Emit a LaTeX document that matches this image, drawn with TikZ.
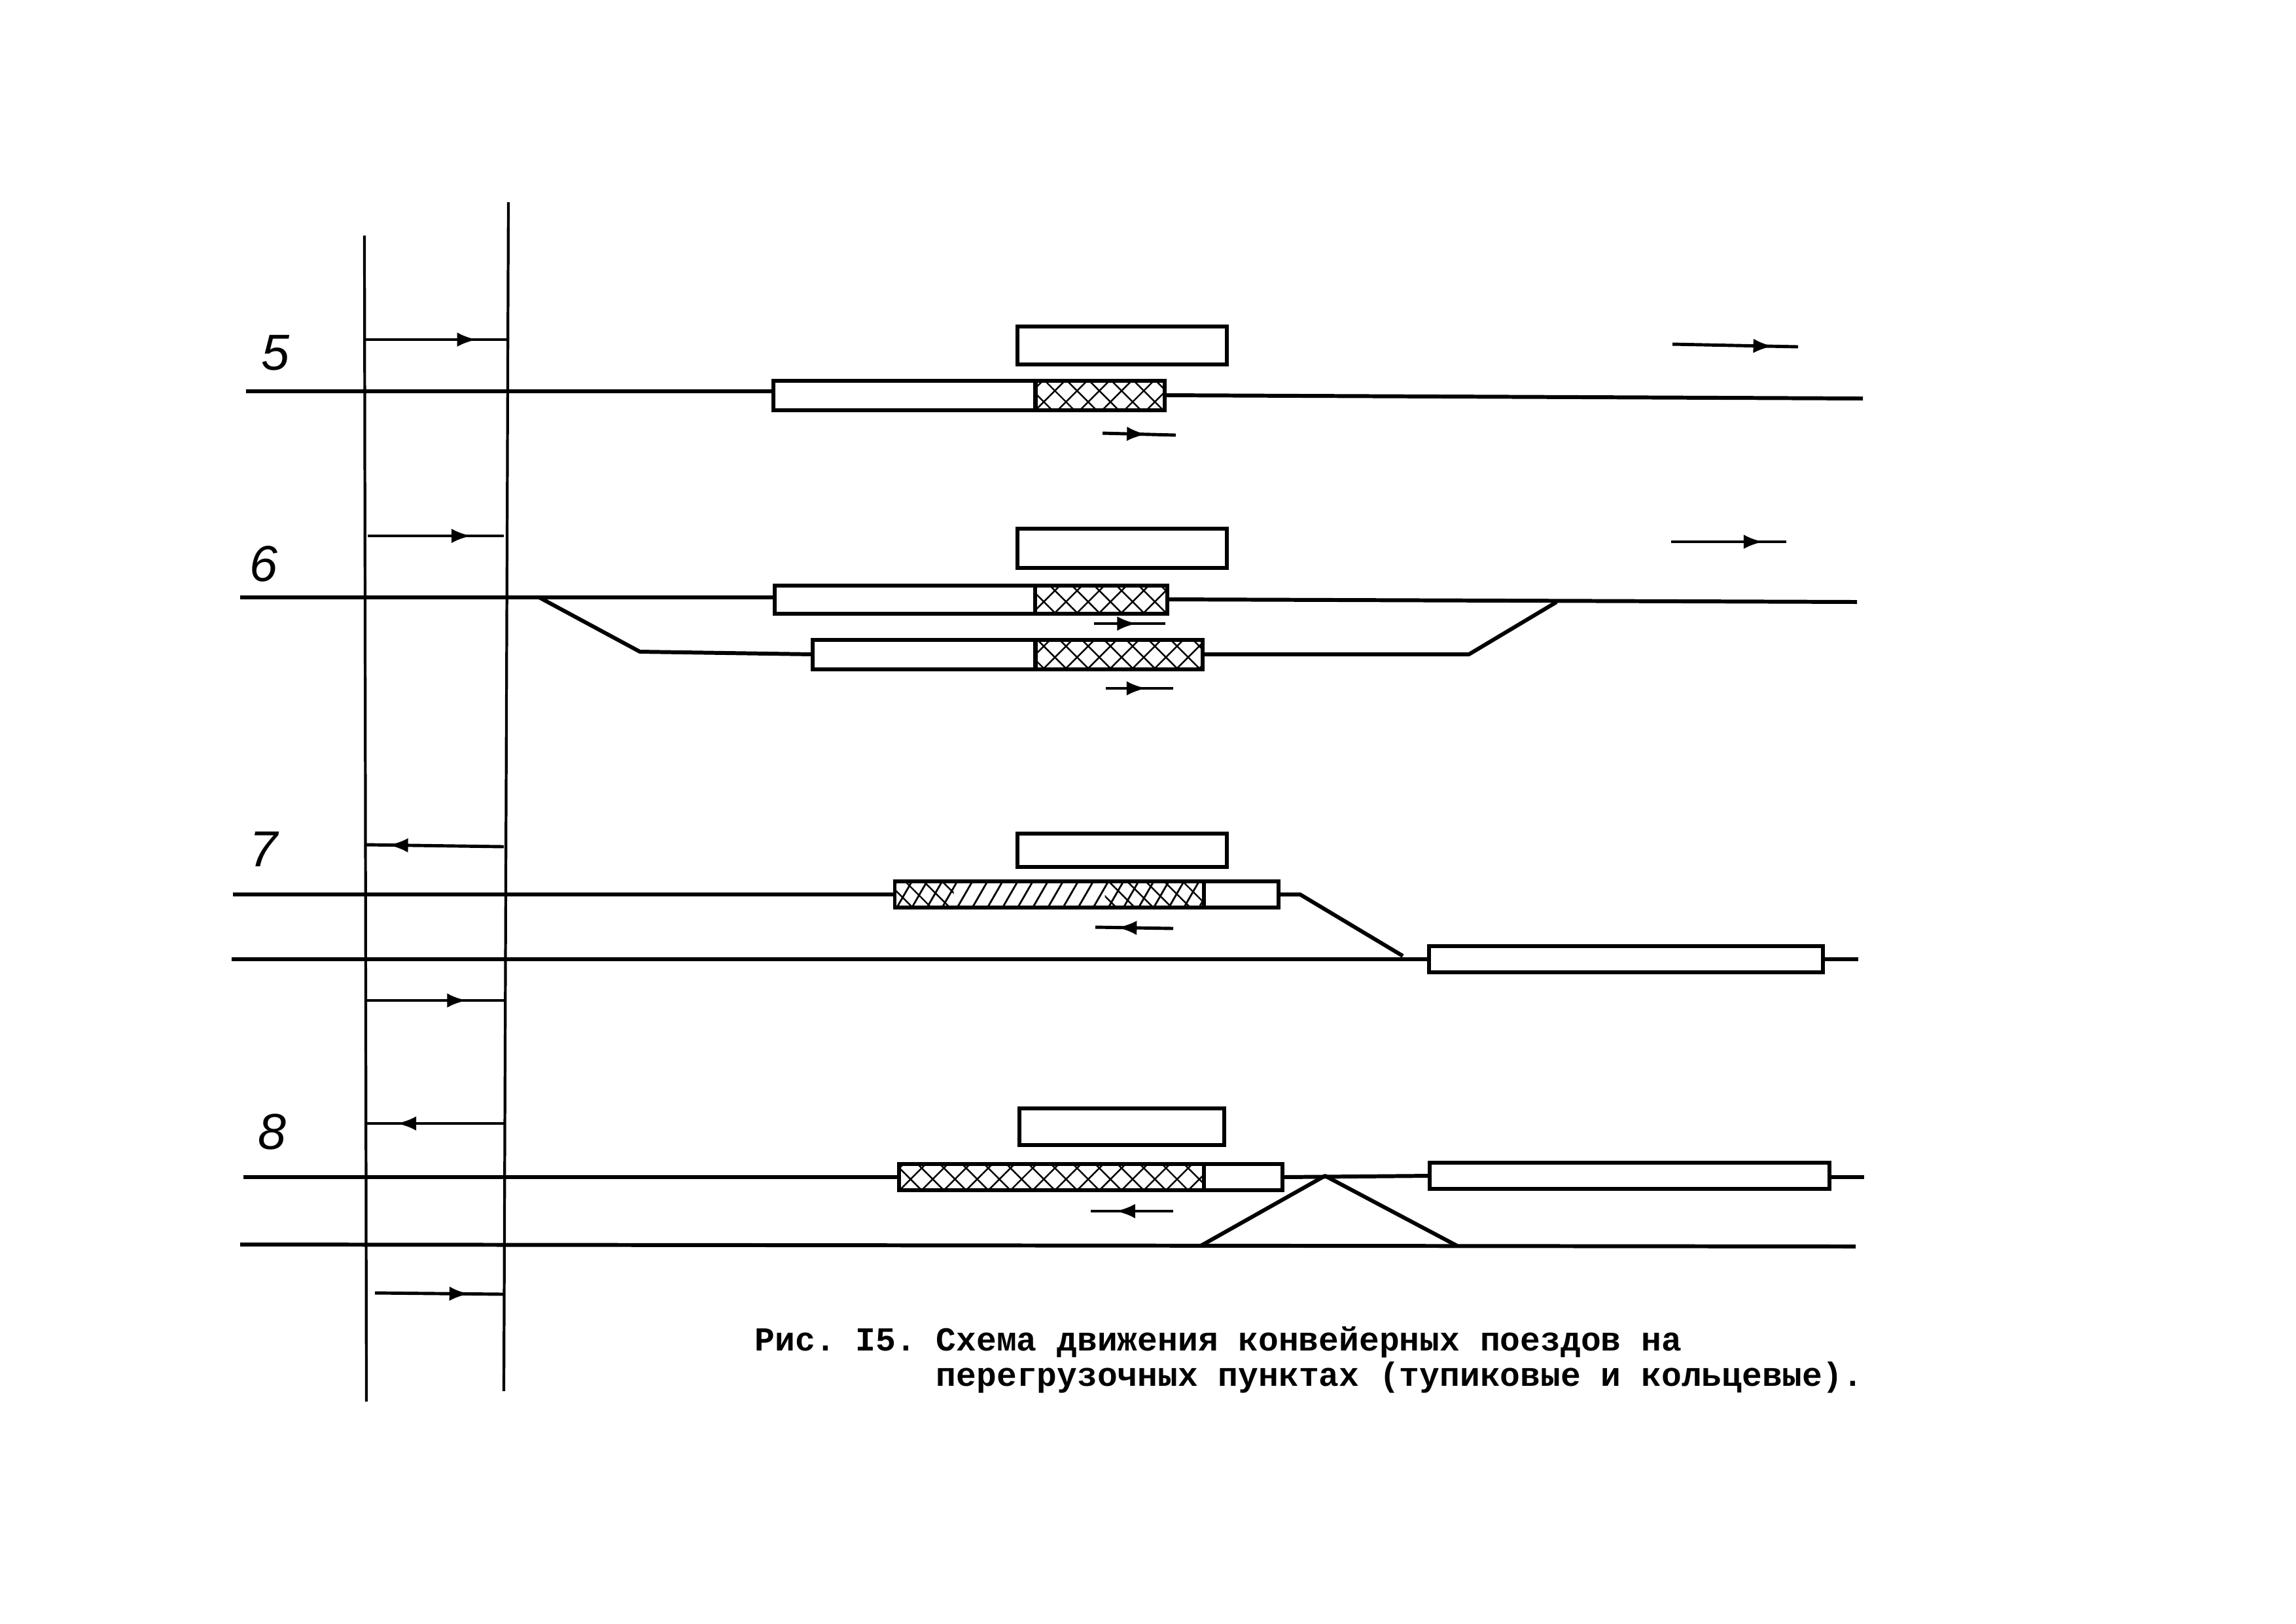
\documentclass[tikz,border=0pt]{standalone}
\usepackage{fontspec}
\setmainfont{Liberation Sans}
\newfontfamily\typefont{Liberation Mono}
\usetikzlibrary{arrows.meta,decorations.markings,patterns.meta}
\begin{document}
\begin{tikzpicture}[
          track/.style={line width=1.7pt, line join=round},
          rail/.style={line width=1.2pt},
          flow/.style={line width=1.4pt, postaction={decorate},
            decoration={markings, mark=at position #1 with {\arrow{Latex[length=0.3cm,width=0.22cm]}}}},
          plain/.style={draw, line width=1.7pt, fill=white, inner sep=0pt, outer sep=0pt},
          cross/.style={plain, pattern={Hatch[angle=45,distance=0.24cm,line width=0.7pt]}},
          slant/.style={plain, pattern={Lines[angle=60,distance=0.2cm,line width=0.8pt]}},
          counter/.style={pattern={Lines[angle=-45,distance=0.2cm,line width=0.7pt]}},
          number/.style={font=\fontsize{22}{24}\selectfont\itshape, inner sep=0pt}
        ]
        \useasboundingbox (0,0) rectangle (35.09,-24.81);

        % Vertical rails
        \coordinate (railAtop) at (5.57,-3.60);
        \coordinate (railAbot) at (5.60,-21.42);
        \coordinate (railBtop) at (7.77,-3.09);
        \coordinate (railBbot) at (7.70,-21.26);
        \draw[rail] (railAtop) -- (railAbot);
        \draw[rail] (railBtop) -- (railBbot);

        % Row 5
        \node[number] (num5) at (4.21,-5.39) {5};
        \node[plain, minimum width=3.2cm, minimum height=0.58cm] (box5) at (17.15,-5.28) {};
        \node[plain, minimum width=4.0cm, minimum height=0.45cm] (load5) at (13.82,-6.04) {};
        \node[cross, minimum width=1.97cm, minimum height=0.45cm] (tail5) at (16.81,-6.04) {};
        \coordinate (w5) at (3.76,-5.98);
        \coordinate (e5) at (28.47,-6.09);
        \draw[track] (w5) -- (load5.west |- w5);
        \draw[track] (tail5.east) -- (e5);
        \coordinate (a5) at (5.57,-5.19);
        \coordinate (b5) at (7.77,-5.19);
        \coordinate (c5) at (25.56,-5.26);
        \coordinate (d5) at (27.48,-5.30);
        \coordinate (f5) at (16.85,-6.62);
        \coordinate (g5) at (17.97,-6.65);
        \draw[flow=0.78] (a5) -- (b5);
        \draw[flow=0.8] (c5) -- (d5);
        \draw[flow=0.6] (f5) -- (g5);

        % Row 6
        \node[number] (num6) at (4.03,-8.62) {6};
        \node[plain, minimum width=3.2cm, minimum height=0.6cm] (box6) at (17.15,-8.38) {};
        \node[plain, minimum width=3.98cm, minimum height=0.43cm] (load6) at (13.83,-9.16) {};
        \node[cross, minimum width=2.02cm, minimum height=0.43cm] (tail6) at (16.83,-9.16) {};
        \node[plain, minimum width=3.4cm, minimum height=0.45cm] (load6s) at (14.12,-10.0) {};
        \node[cross, minimum width=2.55cm, minimum height=0.45cm] (tail6s) at (17.10,-10.0) {};
        \coordinate (w6) at (3.67,-9.13);
        \coordinate (e6) at (28.38,-9.20);
        \draw[track] (w6) -- (load6.west |- w6);
        \draw[track] (tail6.east) -- (e6);
        \coordinate (sw1) at (8.24,-9.13);
        \coordinate (sw2) at (9.78,-9.96);
        \coordinate (sw3) at (22.45,-10.0);
        \coordinate (sw4) at (23.79,-9.20);
        \draw[track] (sw1) -- (sw2) -- (load6s.west);
        \draw[track] (tail6s.east) -- (sw3) -- (sw4);
        \coordinate (a6) at (5.62,-8.19);
        \coordinate (b6) at (7.70,-8.19);
        \coordinate (c6) at (25.54,-8.28);
        \coordinate (d6) at (27.30,-8.28);
        \coordinate (f6) at (16.72,-9.53);
        \coordinate (g6) at (17.81,-9.53);
        \coordinate (h6) at (16.90,-10.52);
        \coordinate (i6) at (17.93,-10.52);
        \draw[flow=0.76] (a6) -- (b6);
        \draw[flow=0.8] (c6) -- (d6);
        \draw[flow=0.6] (f6) -- (g6);
        \draw[flow=0.6] (h6) -- (i6);

        % Row 7
        \node[number] (num7) at (4.03,-12.98) {7};
        \node[plain, minimum width=3.2cm, minimum height=0.51cm] (box7) at (17.15,-12.99) {};
        \node[slant, minimum width=4.73cm, minimum height=0.4cm] (tail7) at (16.04,-13.67) {};
        \node[plain, minimum width=1.14cm, minimum height=0.4cm] (load7) at (18.97,-13.67) {};
        \node[plain, minimum width=6.02cm, minimum height=0.4cm] (wait7) at (24.85,-14.66) {};
        \path[counter] (tail7.south west) rectangle ([xshift=0.9cm]tail7.north west);
        \path[counter] ([xshift=-1.52cm]tail7.south east) rectangle (tail7.north east);
        \coordinate (w7) at (3.56,-13.67);
        \coordinate (w7l) at (3.54,-14.66);
        \coordinate (e7l) at (28.40,-14.66);
        \coordinate (sw5) at (19.87,-13.67);
        \coordinate (sw6) at (21.44,-14.61);
        \draw[track] (w7) -- (tail7.west);
        \draw[track] (load7.east) -- (sw5) -- (sw6);
        \draw[track] (w7l) -- (wait7.west);
        \draw[track] (wait7.east) -- (e7l);
        \coordinate (a7) at (7.70,-12.94);
        \coordinate (b7) at (5.60,-12.91);
        \coordinate (f7) at (17.93,-14.19);
        \coordinate (g7) at (16.74,-14.17);
        \coordinate (h7) at (5.60,-15.29);
        \coordinate (i7) at (7.70,-15.29);
        \draw[flow=0.84] (a7) -- (b7);
        \draw[flow=0.72] (f7) -- (g7);
        \draw[flow=0.73] (h7) -- (i7);

        % Row 8
        \node[number] (num8) at (4.16,-17.30) {8};
        \node[plain, minimum width=3.13cm, minimum height=0.56cm] (box8) at (17.14,-17.22) {};
        \node[cross, minimum width=4.66cm, minimum height=0.4cm] (tail8) at (16.07,-17.99) {};
        \node[plain, minimum width=1.2cm, minimum height=0.4cm] (load8) at (19.0,-17.99) {};
        \node[plain, minimum width=6.11cm, minimum height=0.4cm] (wait8) at (24.90,-17.97) {};
        \coordinate (w8) at (3.72,-17.99);
        \coordinate (e8) at (28.49,-17.99);
        \coordinate (w8l) at (3.67,-19.02);
        \coordinate (e8l) at (28.36,-19.05);
        \coordinate (sw7) at (18.35,-19.04);
        \coordinate (sw8) at (20.25,-17.97);
        \coordinate (sw9) at (22.27,-19.04);
        \draw[track] (w8) -- (tail8.west);
        \draw[track] (load8.east) -- (wait8.west);
        \draw[track] (wait8.east |- e8) -- (e8);
        \draw[track] (w8l) -- (e8l);
        \draw[track] (sw7) -- (sw8) -- (sw9);
        \coordinate (a8) at (7.70,-17.17);
        \coordinate (b8) at (5.60,-17.17);
        \coordinate (f8) at (17.93,-18.51);
        \coordinate (g8) at (16.67,-18.51);
        \coordinate (h8) at (5.73,-19.76);
        \coordinate (i8) at (7.70,-19.78);
        \draw[flow=0.78] (a8) -- (b8);
        \draw[flow=0.7] (f8) -- (g8);
        \draw[flow=0.73] (h8) -- (i8);

        % Caption
        \node[anchor=north west, align=left, inner sep=0pt, font=\typefont\bfseries\frenchspacing\fontsize{14.6}{15.3}\selectfont] (caption) at (11.53,-20.27)
          {Рис. I5. Схема движения конвейерных поездов на\\
           \phantom{Рис. I5. }перегрузочных пунктах (тупиковые и кольцевые).};

      \end{tikzpicture}
\end{document}
